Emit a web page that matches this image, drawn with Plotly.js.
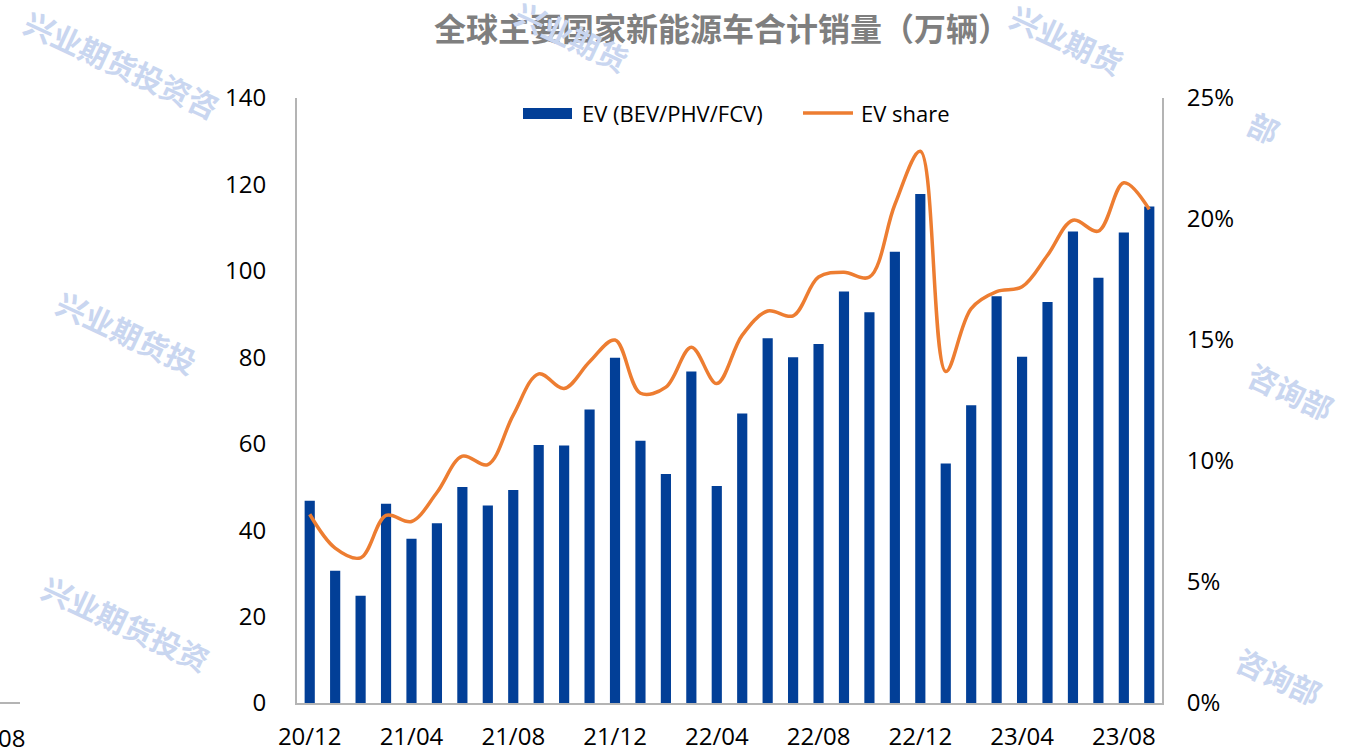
<!DOCTYPE html>
<html>
<head>
<meta charset="utf-8">
<script src="https://cdn.plot.ly/plotly-3.0.1.min.js"></script>
<style>html,body{margin:0;padding:0;background:#fff;}#chart{width:1345px;height:750px;}</style>
</head>
<body>
<div id="chart"></div>
<script>
// ---- data ----
const months = ["20/12","21/01","21/02","21/03","21/04","21/05","21/06","21/07","21/08","21/09","21/10","21/11",
  "21/12","22/01","22/02","22/03","22/04","22/05","22/06","22/07","22/08","22/09","22/10","22/11",
  "22/12","23/01","23/02","23/03","23/04","23/05","23/06","23/07","23/08","23/09"];
const evSales = [46.8, 30.6, 24.8, 46.1, 38.0, 41.6, 50.0, 45.7, 49.3, 59.7, 59.6, 67.9,
  79.9, 60.7, 53.0, 76.7, 50.2, 67.0, 84.4, 80.0, 83.1, 95.2, 90.4, 104.4,
  117.8, 55.4, 68.9, 94.1, 80.1, 92.8, 109.1, 98.4, 108.9, 114.9];
const evShare = [7.8, 6.4, 6.0, 7.75, 7.5, 8.7, 10.2, 9.85, 11.9, 13.6, 13.0, 14.1,
  15.0, 12.8, 13.05, 14.7, 13.2, 15.2, 16.2, 16.0, 17.6, 17.8, 17.6, 20.6,
  22.8, 13.7, 16.3, 17.0, 17.2, 18.5, 19.95, 19.5, 21.5, 20.4];
const tickLabels = ["20/12","21/04","21/08","21/12","22/04","22/08","22/12","23/04","23/08"];
const seriesNames = ["EV (BEV/PHV/FCV)", "EV share"];
const titleText = "全球主要国家新能源车合计销量（万辆）";
const watermark = "兴业期货投资咨询部";

const barColor = "#023f97", lineColor = "#ed7d31";

// ---- layout helpers (pixel -> paper) ----
const L = 297, R = 183, T = 98, B = 47, W = 1345, H = 750;
const pw = W - L - R, ph = H - T - B;
const px = p => (p - L) / pw;
const py = q => (H - B - q) / ph;

const wmFont = {family: "Noto Sans CJK SC", size: 30, color: "#c9d6f0", weight: 700};
const wm = (text, x, y) => ({text: text, x: px(x), y: py(y), xref: "paper", yref: "paper",
  showarrow: false, textangle: 25, font: wmFont, xanchor: "center", yanchor: "middle"});

const traces = [
  {type: "bar", name: seriesNames[0], x: months, y: evSales, marker: {color: barColor},
   yaxis: "y", hoverinfo: "x+y", showlegend: false},
  {type: "scatter", mode: "lines", name: seriesNames[1], x: months, y: evShare, yaxis: "y2",
   line: {color: lineColor, width: 3.5, shape: "spline", smoothing: 1}, hoverinfo: "x+y", showlegend: false}
];

const tickFont = {family: "Open Sans, Noto Sans, sans-serif", size: 24, color: "#000"};
const legFont = {family: "Open Sans, Noto Sans, sans-serif", size: 22, color: "#000"};

const layout = {
  width: W, height: H,
  margin: {l: L, r: R, t: T, b: B, pad: 0},
  paper_bgcolor: "#fff", plot_bgcolor: "rgba(0,0,0,0)",
  bargap: 0.6,
  showlegend: false,
  title: {text: "<b>" + titleText + "</b>", x: 722 / W, xanchor: "center", xref: "container",
    y: 1 - 30 / H, yanchor: "middle", yref: "container",
    font: {family: "Noto Sans CJK SC", size: 32, color: "#7f7f7f"}},
  xaxis: {type: "category", range: [-0.5, 33.5], tickmode: "array", tickvals: tickLabels, ticktext: tickLabels,
    showline: true, linecolor: "#b4b4b4", linewidth: 2, ticks: "", showgrid: false, zeroline: false,
    tickfont: tickFont, ticklabelstandoff: 11, fixedrange: true},
  yaxis: {range: [0, 140], dtick: 20, showline: true, linecolor: "#b4b4b4", linewidth: 2, ticks: "",
    showgrid: false, zeroline: false, tickfont: tickFont, ticklabelstandoff: 24, fixedrange: true},
  yaxis2: {range: [0, 25], dtick: 5, ticksuffix: "%", overlaying: "y", side: "right", showline: true,
    linecolor: "#b4b4b4", linewidth: 2, ticks: "", showgrid: false, zeroline: false,
    tickfont: tickFont, ticklabelstandoff: 18, fixedrange: true},
  shapes: [
    // custom legend swatches
    {type: "rect", xref: "paper", yref: "paper", x0: px(523), x1: px(572), y0: py(119), y1: py(108),
     fillcolor: barColor, line: {width: 0}},
    {type: "line", xref: "paper", yref: "paper", x0: px(803), x1: px(853), y0: py(113), y1: py(113),
     line: {color: lineColor, width: 3.5}},
    // fragment of neighbouring chart at the far left
    {type: "line", xref: "paper", yref: "paper", x0: px(0), x1: px(20), y0: py(703), y1: py(703),
     line: {color: "#b4b4b4", width: 2}}
  ],
  annotations: [
    wm(watermark.slice(0, 7), 122, 64),
    wm(watermark.slice(0, 4), 572, 36),
    wm(watermark.slice(0, 4), 1067, 39),
    wm(watermark.slice(8), 1264, 127),
    wm(watermark.slice(0, 5), 127, 332),
    wm(watermark.slice(6), 1291, 391),
    wm(watermark.slice(0, 6), 126, 623),
    wm(watermark.slice(6), 1279, 676),
    {text: seriesNames[0], x: px(580), y: py(113), xref: "paper", yref: "paper", showarrow: false,
     font: legFont, xanchor: "left", yanchor: "middle"},
    {text: seriesNames[1], x: px(859), y: py(113), xref: "paper", yref: "paper", showarrow: false,
     font: legFont, xanchor: "left", yanchor: "middle"},
    {text: "08", x: px(11), y: py(737), xref: "paper", yref: "paper", showarrow: false,
     font: tickFont, xanchor: "center", yanchor: "middle"}
  ]
};

Plotly.newPlot("chart", traces, layout, {displayModeBar: false, staticPlot: true});
</script>
</body>
</html>
